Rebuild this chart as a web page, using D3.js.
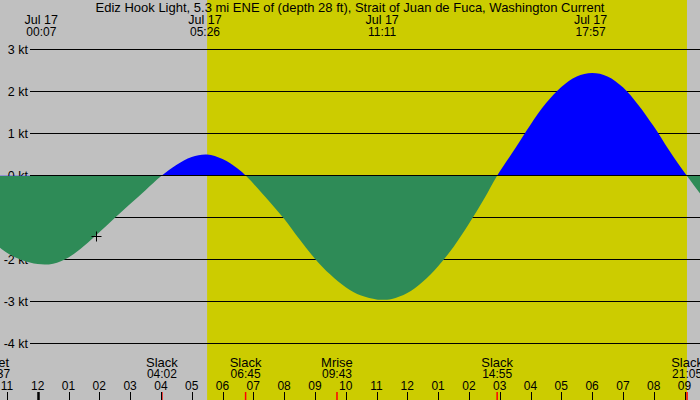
<!DOCTYPE html>
<html>
<head>
<meta charset="utf-8">
<script src="https://cdn.jsdelivr.net/npm/d3@7"></script>
<style>
  body { margin: 0; background: #fff; }
  svg text { font-family: "Liberation Sans", Arial, sans-serif; font-size: 12px; fill: #000; }
  svg text.big { font-size: 13px; }
  svg text.mid { font-size: 12.5px; }
</style>
</head>
<body>
<div class="chart"></div>
<script>
// hours since midnight Jul 17 (negative = Jul 16)
const curveHours = [-1.5, -1.0, -0.5, 0.0, 0.5, 1.0, 1.5, 2.0, 2.5, 3.0, 3.5, 4.03,
  4.5, 5.0, 5.5, 6.0, 6.5, 6.75, 7.0, 7.5, 8.0, 8.5, 9.0, 9.5, 10.0, 10.5, 11.0, 11.2,
  11.5, 12.0, 12.5, 13.0, 13.5, 14.0, 14.5, 14.92, 15.5, 16.0, 16.5, 17.0, 17.5, 18.0,
  18.5, 19.0, 19.5, 20.0, 20.5, 21.07, 21.5, 21.8];
const curveKnots = [-1.56, -1.84, -2.02, -2.11, -2.10, -1.95, -1.68, -1.35, -1.01, -0.68, -0.35, 0,
  0.25, 0.44, 0.50, 0.39, 0.16, 0, -0.19, -0.60, -1.03, -1.52, -1.98, -2.36, -2.66, -2.86, -2.95, -2.96,
  -2.94, -2.80, -2.53, -2.16, -1.70, -1.15, -0.55, 0, 0.64, 1.21, 1.72, 2.11, 2.36, 2.44,
  2.36, 2.10, 1.68, 1.17, 0.60, 0, -0.42, -0.70];

const yTicks = [3, 2, 1, 0, -1, -2, -3, -4];
const hourTicks = d3.range(-1, 22); // 11pm Jul 16 .. 9pm Jul 17

// peak flood / ebb labels along the top
const peakHours = [0.117, 5.433, 11.183, 17.95];
const peakLabels = ["00:07", "05:26", "11:11", "17:57"];

// events along the bottom
const eventHours = [-1.383, 4.033, 6.75, 9.717, 14.917, 21.083];
const eventNames = ["Mset", "Slack", "Slack", "Mrise", "Slack", "Slack"];
const eventTimes = ["22:37", "04:02", "06:45", "09:43", "14:55", "21:05"];

const sunrise = 5.5, sunset = 21.08;
const nowMark = [1.89, -1.43];

const title = "Ediz Hook Light, 5.3 mi ENE of (depth 28 ft), Strait of Juan de Fuca, Washington Current";

const W = 700, H = 400;
const svg = d3.select(".chart").append("svg").attr("width", W).attr("height", H);

const x = d3.scaleLinear().domain([0, 21]).range([37.7, 37.7 + 21 * 30.8]);
const y = d3.scaleLinear().domain([-4, 3]).range([343.5, 49.5]);

// night / day background
svg.append("rect").attr("x", 0).attr("y", 0).attr("width", W).attr("height", H).attr("fill", "#c0c0c0");
svg.append("rect")
  .attr("x", x(sunrise)).attr("y", 0)
  .attr("width", x(sunset) - x(sunrise)).attr("height", H)
  .attr("fill", "#cccc00");

// grid lines
svg.append("g").selectAll("line").data(yTicks).enter().append("line")
  .attr("x1", 30).attr("x2", W)
  .attr("y1", d => y(d)).attr("y2", d => y(d))
  .attr("stroke", "#000").attr("stroke-width", 1);

svg.append("g").selectAll("text").data(yTicks).enter().append("text")
  .attr("class", "mid")
  .attr("x", 28).attr("y", d => y(d) + 4)
  .attr("text-anchor", "end")
  .text(d => d + " kt");

const pts = curveHours.map((h, i) => [h, curveKnots[i]]);

// clip regions above / below the zero line
let defs = svg.append("defs");
defs.append("clipPath").attr("id", "above").append("rect")
  .attr("x", 0).attr("y", 0).attr("width", W).attr("height", y(0));
defs.append("clipPath").attr("id", "below").append("rect")
  .attr("x", 0).attr("y", y(0) + 0.5).attr("width", W).attr("height", H);

let area = d3.area().curve(d3.curveCatmullRom).x(d => x(d[0])).y0(y(0)).y1(d => y(d[1]));

// flood (blue) above zero, ebb (green) below
svg.append("path").datum(pts)
  .attr("d", area)
  .attr("clip-path", "url(#above)")
  .attr("fill", "#0000ff");

svg.append("line").attr("x1", 30).attr("x2", W).attr("y1", y(0)).attr("y2", y(0))
  .attr("stroke", "#000");

svg.append("path").datum(pts)
  .attr("d", area)
  .attr("clip-path", "url(#below)")
  .attr("fill", "#2e8b57");

// current time marker
let mx = Math.round(x(nowMark[0])) + 0.5, my = Math.round(y(nowMark[1])) + 0.5;
svg.append("path")
  .attr("d", `M${mx - 5},${my}H${mx + 5}M${mx},${my - 5}V${my + 5}`)
  .attr("stroke", "#000").attr("stroke-width", 1);

// title
svg.append("text").attr("class", "big").attr("x", 350).attr("y", 12).attr("text-anchor", "middle").text(title);

// top peak labels
let peaks = svg.append("g").selectAll("g").data(peakHours).enter().append("g");
peaks.append("text").attr("class", "mid").attr("x", d => x(d)).attr("y", 24).attr("text-anchor", "middle").text("Jul 17");
peaks.append("text").attr("x", d => x(d)).attr("y", 36).attr("text-anchor", "middle").text((d, i) => peakLabels[i]);

// bottom event labels
let ev = svg.append("g").selectAll("g").data(eventHours).enter().append("g");
ev.append("text").attr("class", "big").attr("x", d => x(d)).attr("y", 367).attr("text-anchor", "middle").text((d, i) => eventNames[i]);
ev.append("text").attr("x", d => x(d)).attr("y", 378).attr("text-anchor", "middle").text((d, i) => eventTimes[i]);
ev.append("line")
  .attr("x1", d => x(d)).attr("x2", d => x(d))
  .attr("y1", 392).attr("y2", H)
  .attr("stroke", "#ff0000").attr("stroke-width", 1.5);

// hour ticks
let hr = svg.append("g").selectAll("g").data(hourTicks).enter().append("g");
hr.append("text").attr("x", d => x(d)).attr("y", 390).attr("text-anchor", "middle")
  .text(d => {
    let h = ((d % 12) + 12) % 12;
    if (h === 0) h = 12;
    return d3.format("02")(h);
  });
hr.append("line")
  .attr("x1", d => Math.round(x(d)) + 0.5).attr("x2", d => Math.round(x(d)) + 0.5)
  .attr("y1", 392).attr("y2", H)
  .attr("stroke", "#000")
  .attr("stroke-width", d => d === 0 ? 2.5 : 1);
</script>
</body>
</html>
